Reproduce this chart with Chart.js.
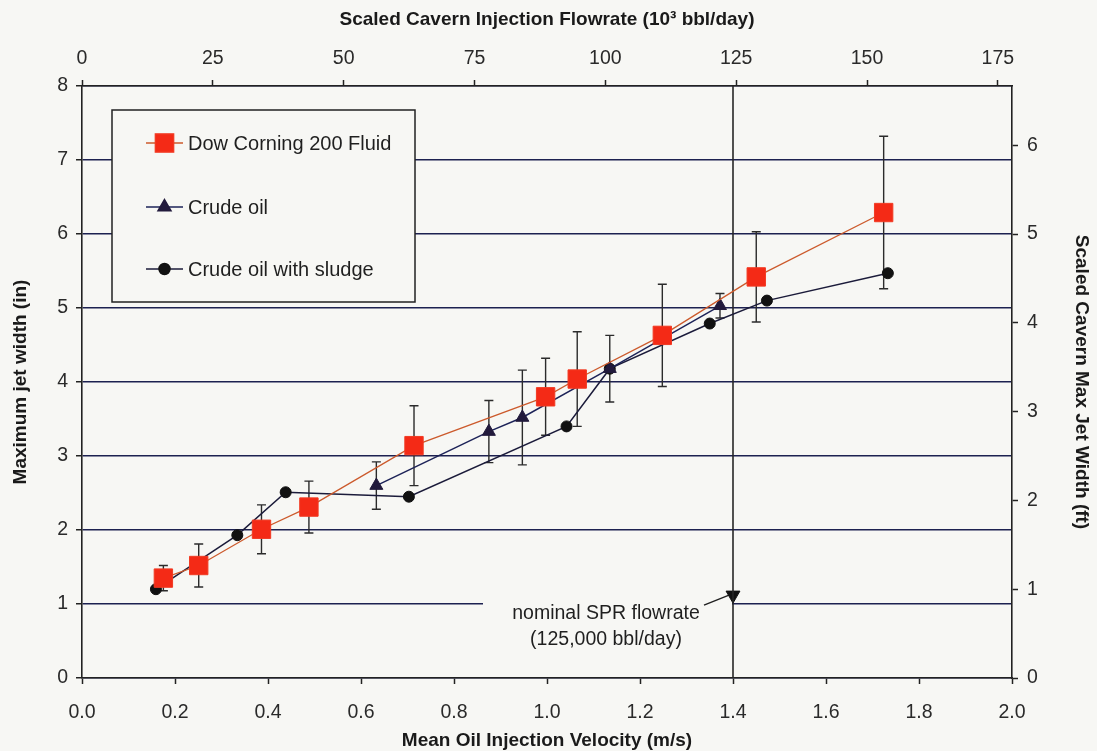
<!DOCTYPE html>
<html>
<head>
<meta charset="utf-8">
<script src="https://cdn.jsdelivr.net/npm/chart.js@4.4.1/dist/chart.umd.min.js"></script>
<style>
  html, body { margin: 0; padding: 0; background: #f7f7f4; }
  #wrap { width: 1097px; height: 751px; position: relative; }
  canvas { display: block; }
</style>
</head>
<body>
<div id="wrap"><canvas id="c" width="1097" height="751"></canvas></div>
<script>
// Mean oil injection velocity (m/s), maximum jet width (in) and error half-widths (in)
const velDow      = [0.175, 0.251, 0.386, 0.488, 0.714, 0.997, 1.065, 1.248, 1.450, 1.724];
const widthDow    = [1.35, 1.52, 2.01, 2.31, 3.14, 3.80, 4.04, 4.63, 5.42, 6.29];
const errDow      = [0.17, 0.29, 0.33, 0.35, 0.54, 0.52, 0.64, 0.69, 0.61, 1.03];

const velCrude    = [0.633, 0.875, 0.947, 1.135, 1.372];
const widthCrude  = [2.60, 3.33, 3.52, 4.18, 5.03];
const errCrude    = [0.32, 0.42, 0.64, 0.45, 0.165];

const velSludge   = [0.159, 0.334, 0.438, 0.703, 1.042, 1.135, 1.350, 1.473, 1.733];
const widthSludge = [1.20, 1.93, 2.51, 2.45, 3.40, 4.18, 4.79, 5.10, 5.47];

// Nominal SPR flowrate (125,000 bbl/day) expressed as velocity, and its marker height
const nominalVel    = 1.4;
const nominalMarker = 1.12;

// Axis tick values
const velocityTicks = [0, 0.2, 0.4, 0.6, 0.8, 1.0, 1.2, 1.4, 1.6, 1.8, 2.0];
const flowTicks     = [0, 25, 50, 75, 100, 125, 150, 175];
const widthInTicks  = [0, 1, 2, 3, 4, 5, 6, 7, 8];
const widthFtTicks  = [0, 1, 2, 3, 4, 5, 6];

const seriesNames = ['Dow Corning 200 Fluid', 'Crude oil', 'Crude oil with sludge'];

const BG = '#f7f7f4';
const INK = '#222222';
const GRID = '#1d2150';
const FONT = "'Liberation Sans', Arial, sans-serif";

const pts = (xs, ys) => xs.map((x, i) => ({ x: x, y: ys[i] }));

// secondary axis ranges: flowrate (10^3 bbl/day) across the velocity range, cavern width in feet
const flowMax = 177.7;
const ftMax = 8 * 10 / 12;

const fixSize = (prop, v) => (scale) => { scale[prop] = v; };
const useTicks = (arr) => (scale) => { scale.ticks = arr.map(v => ({ value: v })); };

const errorBars = {
  id: 'errorBars',
  beforeDatasetsDraw(chart) {
    const { ctx, scales: { x, y } } = chart;
    const sets = [[velDow, widthDow, errDow], [velCrude, widthCrude, errCrude]];
    ctx.save();
    ctx.strokeStyle = '#2b2b2b';
    ctx.lineWidth = 1.4;
    sets.forEach(([xs, ys, es]) => {
      xs.forEach((v, i) => {
        const px = x.getPixelForValue(v);
        const top = y.getPixelForValue(ys[i] + es[i]);
        const bot = y.getPixelForValue(ys[i] - es[i]);
        ctx.beginPath();
        ctx.moveTo(px, top); ctx.lineTo(px, bot);
        ctx.moveTo(px - 4.5, top); ctx.lineTo(px + 4.5, top);
        ctx.moveTo(px - 4.5, bot); ctx.lineTo(px + 4.5, bot);
        ctx.stroke();
      });
    });
    ctx.restore();
  }
};

const boxes = {
  id: 'boxes',
  beforeDatasetsDraw(chart) {
    const { ctx, scales: { x, y } } = chart;
    ctx.save();
    // annotation text area (opaque, hides the grid line behind it)
    const mx = x.getPixelForValue(nominalVel);
    const my = y.getPixelForValue(nominalMarker);
    ctx.fillStyle = BG;
    ctx.fillRect(483, my - 6, mx - 483 - 1, 70);
    ctx.fillStyle = '#1f1f1f';
    ctx.font = '19.5px ' + FONT;
    ctx.textAlign = 'center';
    ctx.textBaseline = 'middle';
    ctx.fillText('nominal SPR flowrate', 606, my + 19);
    ctx.fillText('(125,000 bbl/day)', 606, my + 45);
    // leader line to the marker
    ctx.strokeStyle = '#1f1f1f';
    ctx.lineWidth = 1.5;
    ctx.beginPath();
    ctx.moveTo(704, my + 10);
    ctx.lineTo(mx - 4, my);
    ctx.stroke();

    // legend box
    const lx = 112, ly = 110, lw = 303, lh = 192;
    ctx.fillStyle = BG;
    ctx.fillRect(lx, ly, lw, lh);
    ctx.strokeStyle = INK;
    ctx.lineWidth = 1.5;
    ctx.strokeRect(lx, ly, lw, lh);
    const rows = [143, 207, 269];
    chart.data.datasets.slice(0, 3).forEach((ds, i) => {
      const yy = rows[i];
      ctx.strokeStyle = ds.borderColor;
      ctx.lineWidth = ds.borderWidth;
      ctx.beginPath();
      ctx.moveTo(146, yy); ctx.lineTo(183, yy);
      ctx.stroke();
      ctx.fillStyle = ds.pointBackgroundColor;
      ctx.strokeStyle = ds.pointBorderColor;
      Chart.helpers.drawPoint(ctx, {
        pointStyle: ds.pointStyle, radius: ds.pointRadius, rotation: 0, borderWidth: 1
      }, 164.5, yy);
      ctx.fillStyle = '#1f1f1f';
      ctx.font = '20px ' + FONT;
      ctx.textAlign = 'left';
      ctx.textBaseline = 'middle';
      ctx.fillText(seriesNames[i], 188, yy + 1);
    });
    ctx.restore();
  }
};

const bgFill = {
  id: 'bgFill',
  beforeDraw(chart) {
    const { ctx, width, height } = chart;
    ctx.save();
    ctx.fillStyle = BG;
    ctx.fillRect(0, 0, width, height);
    ctx.restore();
  }
};

const tickFont = { family: FONT, size: 19.5 };
const titleFont = { family: FONT, size: 19, weight: 'bold' };

new Chart(document.getElementById('c'), {
  type: 'scatter',
  data: {
    datasets: [
      {
        label: seriesNames[0], data: pts(velDow, widthDow), showLine: true,
        borderColor: '#cc5a2c', borderWidth: 1.3,
        pointStyle: 'rect', pointRadius: 13, pointHoverRadius: 13,
        pointBackgroundColor: '#f42a16', pointBorderColor: '#f23a22', pointBorderWidth: 1
      },
      {
        label: seriesNames[1], data: pts(velCrude, widthCrude), showLine: true,
        borderColor: '#1d2358', borderWidth: 1.5,
        pointStyle: 'triangle', pointRadius: 7.5, pointHoverRadius: 7.5,
        pointBackgroundColor: '#221a3c', pointBorderColor: '#221a3c', pointBorderWidth: 1
      },
      {
        label: seriesNames[2], data: pts(velSludge, widthSludge), showLine: true,
        borderColor: '#1b1b3a', borderWidth: 1.5,
        pointStyle: 'circle', pointRadius: 5.5, pointHoverRadius: 5.5,
        pointBackgroundColor: '#111111', pointBorderColor: '#111111', pointBorderWidth: 1
      },
      {
        label: 'nominal', data: [{ x: nominalVel, y: 0 }, { x: nominalVel, y: 8 }], showLine: true,
        borderColor: '#262626', borderWidth: 1.6, pointRadius: 0
      },
      {
        label: 'nominal marker', data: [{ x: nominalVel, y: nominalMarker }], showLine: false,
        pointStyle: 'triangle', rotation: 180, pointRotation: 180, pointRadius: 8,
        pointBackgroundColor: '#111111', pointBorderColor: '#111111'
      }
    ]
  },
  options: {
    responsive: false,
    animation: false,
    events: [],
    layout: { padding: 0 },
    plugins: { legend: { display: false }, tooltip: { enabled: false } },
    scales: {
      x: {
        type: 'linear', position: 'bottom', min: 0, max: 2,
        afterFit: fixSize('height', 73), afterBuildTicks: useTicks(velocityTicks),
        grid: { drawOnChartArea: false, drawTicks: true, tickLength: 6, tickColor: INK, tickWidth: 1.5 },
        border: { display: true, color: INK, width: 1.6 },
        ticks: { font: tickFont, color: '#2a2a2a', padding: 17, maxRotation: 0,
                 callback: v => Number(v).toFixed(1) },
        title: { display: true, text: 'Mean Oil Injection Velocity (m/s)', font: titleFont,
                 color: '#1a1a1a', padding: { top: 0, bottom: -1 } }
      },
      x2: {
        type: 'linear', position: 'top', min: 0, max: flowMax,
        afterFit: fixSize('height', 86), afterBuildTicks: useTicks(flowTicks),
        grid: { drawOnChartArea: false, drawTicks: true, tickLength: 6, tickColor: INK, tickWidth: 1.5 },
        border: { display: true, color: INK, width: 1.6 },
        ticks: { font: tickFont, color: '#2a2a2a', padding: 10, maxRotation: 0 },
        title: { display: true, text: 'Scaled Cavern Injection Flowrate (10\u00B3 bbl/day)', font: titleFont,
                 color: '#1a1a1a', padding: { top: 8, bottom: 0 } }
      },
      y: {
        type: 'linear', position: 'left', min: 0, max: 8,
        afterFit: fixSize('width', 82), afterBuildTicks: useTicks(widthInTicks),
        grid: { drawOnChartArea: true, color: GRID, lineWidth: 1.5, drawTicks: true, tickLength: 6, tickColor: INK },
        border: { display: true, color: INK, width: 1.6 },
        ticks: { font: tickFont, color: '#2a2a2a', padding: 8 },
        title: { display: true, text: 'Maximum jet width (in)', font: titleFont,
                 color: '#1a1a1a', padding: { top: 9, bottom: 0 } }
      },
      y2: {
        type: 'linear', position: 'right', min: 0, max: ftMax,
        afterFit: fixSize('width', 85), afterBuildTicks: useTicks(widthFtTicks),
        grid: { drawOnChartArea: false, drawTicks: true, tickLength: 6, tickColor: INK, tickWidth: 1.5 },
        border: { display: true, color: INK, width: 1.6 },
        ticks: { font: tickFont, color: '#2a2a2a', padding: 9 },
        title: { display: true, text: 'Scaled Cavern Max Jet Width (ft)', font: titleFont,
                 color: '#1a1a1a', padding: { top: 4, bottom: 0 } }
      }
    }
  },
  plugins: [bgFill, boxes, errorBars]
});
</script>
</body>
</html>
